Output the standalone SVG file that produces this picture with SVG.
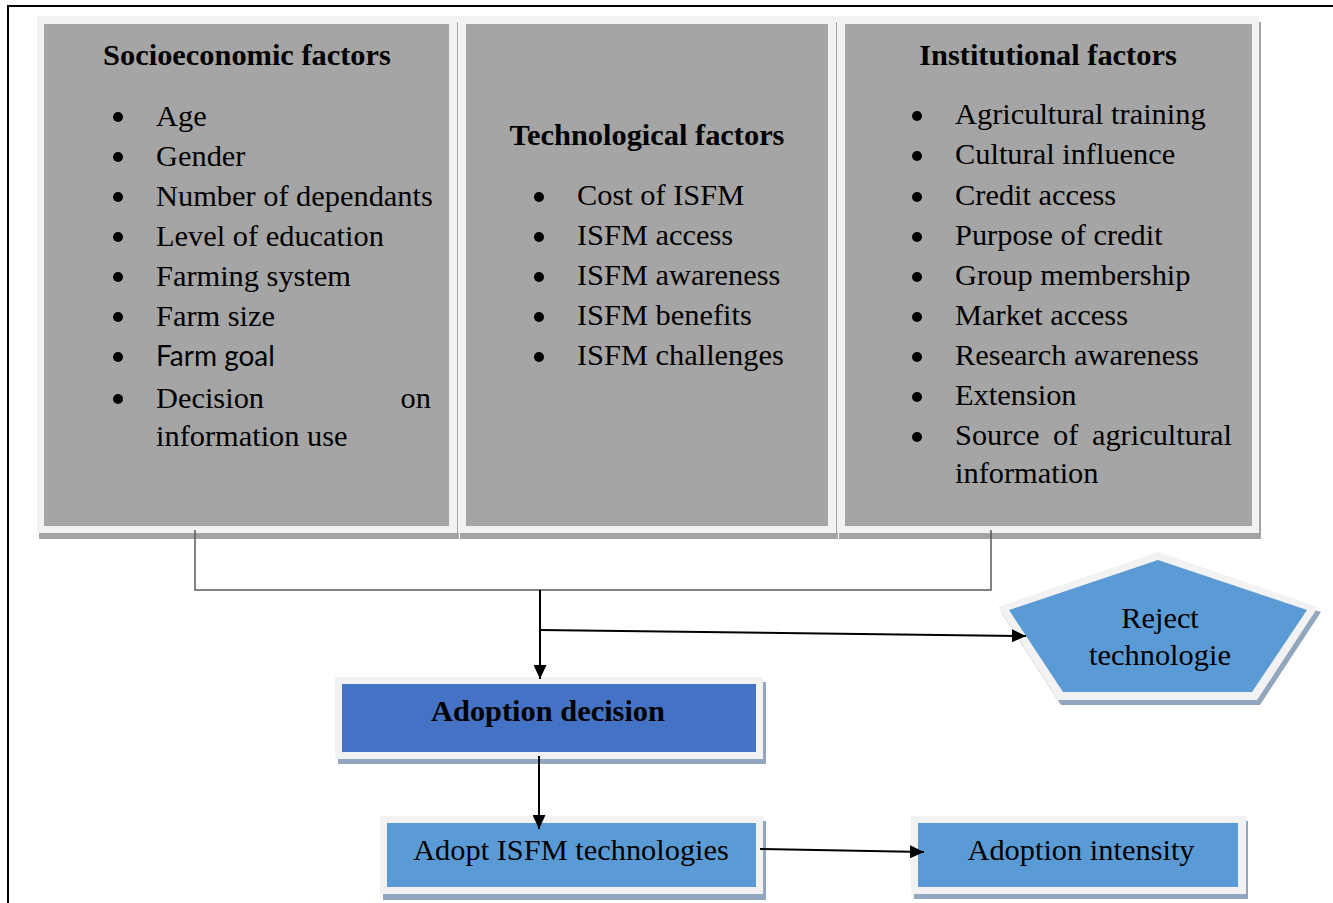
<svg xmlns="http://www.w3.org/2000/svg" width="1333" height="903" viewBox="0 0 1333 903">
<style>
.frame{fill:#f2f2f2}
.gray{fill:#a5a5a5}
.gshadow{fill:#a3a3a3}
.bshadow{fill:#92a6c0}
.dark{fill:#4472c4}
.blue{fill:#5b9bd5}
.h{font-family:"Liberation Serif","Times New Roman",serif;font-weight:bold;font-size:30.4px;fill:#000}
.t{font-family:"Liberation Serif","Times New Roman",serif;font-size:30.4px;fill:#000}
.s{font-family:Lato,"Open Sans",sans-serif;font-size:28px;fill:#000}
.c{text-anchor:middle}
.e{text-anchor:end}
.line{fill:none;stroke:#595959;stroke-width:1.5}
.arr{fill:none;stroke:#000;stroke-width:2;marker-end:url(#ah)}
</style>
<defs>
<marker id="ah" markerUnits="userSpaceOnUse" markerWidth="15" markerHeight="13" refX="14" refY="6.5" orient="auto">
<path d="M0,0 L14,6.5 L0,13 z" fill="#000"/>
</marker>
</defs>
<rect width="1333" height="903" fill="#fff"/>
<g id="page-border">
<path d="M8,903 L8,6 L1333,6" fill="none" stroke="#000" stroke-width="2"/>
</g>

<g id="socioeconomic">
<rect class="gshadow" x="39" y="22" width="420" height="517"/>
<rect class="frame" x="37" y="16" width="420" height="517"/>
<rect class="gray" x="44" y="24" width="405" height="502"/>
<text class="h c" x="247" y="65">Socioeconomic factors</text>
<g fill="#000">
<circle cx="118" cy="117" r="5"/><circle cx="118" cy="157" r="5"/><circle cx="118" cy="197" r="5"/><circle cx="118" cy="237" r="5"/><circle cx="118" cy="277" r="5"/><circle cx="118" cy="317" r="5"/><circle cx="118" cy="357" r="5"/><circle cx="118" cy="399" r="5"/>
</g>
<text class="t" x="156" y="126">Age</text>
<text class="t" x="156" y="166">Gender</text>
<text class="t" x="156" y="206">Number of dependants</text>
<text class="t" x="156" y="246">Level of education</text>
<text class="t" x="156" y="286">Farming system</text>
<text class="t" x="156" y="326">Farm size</text>
<text class="s" x="156" y="366">Farm goal</text>
<text class="t" x="156" y="408">Decision</text>
<text class="t e" x="431" y="408">on</text>
<text class="t" x="156" y="446">information use</text>
</g>

<g id="technological">
<rect class="gshadow" x="460" y="22" width="378" height="517"/>
<rect class="frame" x="458" y="16" width="378" height="517"/>
<rect class="gray" x="466" y="24" width="362" height="502"/>
<text class="h c" x="647" y="145">Technological factors</text>
<g fill="#000">
<circle cx="539" cy="197" r="5"/><circle cx="539" cy="237" r="5"/><circle cx="539" cy="277" r="5"/><circle cx="539" cy="317" r="5"/><circle cx="539" cy="357" r="5"/>
</g>
<text class="t" x="577" y="205">Cost of ISFM</text>
<text class="t" x="577" y="245">ISFM access</text>
<text class="t" x="577" y="285">ISFM awareness</text>
<text class="t" x="577" y="325">ISFM benefits</text>
<text class="t" x="577" y="365">ISFM challenges</text>
</g>

<g id="institutional">
<rect class="gshadow" x="839" y="22" width="422" height="517"/>
<rect class="frame" x="837" y="16" width="422" height="517"/>
<rect class="gray" x="845" y="24" width="407" height="502"/>
<text class="h c" x="1048" y="65">Institutional factors</text>
<g fill="#000">
<circle cx="917" cy="116" r="5"/><circle cx="917" cy="156" r="5"/><circle cx="917" cy="197" r="5"/><circle cx="917" cy="237" r="5"/><circle cx="917" cy="277" r="5"/><circle cx="917" cy="317" r="5"/><circle cx="917" cy="357" r="5"/><circle cx="917" cy="397" r="5"/><circle cx="917" cy="437" r="5"/>
</g>
<text class="t" x="955" y="124">Agricultural training</text>
<text class="t" x="955" y="164">Cultural influence</text>
<text class="t" x="955" y="205">Credit access</text>
<text class="t" x="955" y="245">Purpose of credit</text>
<text class="t" x="955" y="285">Group membership</text>
<text class="t" x="955" y="325">Market access</text>
<text class="t" x="955" y="365">Research awareness</text>
<text class="t" x="955" y="405">Extension</text>
<text class="t" x="955" y="445">Source</text>
<text class="t" x="1053" y="445">of</text>
<text class="t e" x="1232" y="445">agricultural</text>
<text class="t" x="955" y="483">information</text>
</g>

<g id="reject">
<polygon class="bshadow" points="1161,557 1321,612 1260,705 1061,705 1001,612"/>
<polygon class="frame" points="1158,552 1318,607 1257,700 1058,700 998,607"/>
<polygon class="blue" points="1158,560 1307,610 1252,692 1063,692 1009,610"/>
<text class="t c" x="1160" y="628">Reject</text>
<text class="t c" x="1160" y="665">technologie</text>
</g>

<g id="adoption-decision">
<rect class="bshadow" x="338" y="682" width="428" height="82"/>
<rect class="frame" x="335" y="677" width="428" height="82"/>
<rect class="dark" x="342" y="684" width="414" height="68"/>
<text class="h c" x="548" y="721">Adoption decision</text>
</g>

<g id="adopt-isfm">
<rect class="bshadow" x="383" y="821" width="383" height="79"/>
<rect class="frame" x="380" y="816" width="383" height="78"/>
<rect class="blue" x="387" y="823" width="369" height="64"/>
<text class="t c" x="571" y="860">Adopt ISFM technologies</text>
</g>

<g id="adoption-intensity">
<rect class="bshadow" x="914" y="821" width="334" height="78"/>
<rect class="frame" x="911" y="816" width="335" height="78"/>
<rect class="blue" x="918" y="823" width="320" height="64"/>
<text class="t c" x="1081" y="860">Adoption intensity</text>
</g>

<g id="connectors">
<path class="line" d="M195,530 L195,590 L991,590 L991,530"/>
<path class="arr" d="M540,590 L540,679"/>
<path class="arr" d="M540,630 L1026,636"/>
<path class="arr" d="M539,756 L539,829"/>
<path class="arr" d="M760,849 L924,852"/>
</g>
</svg>
